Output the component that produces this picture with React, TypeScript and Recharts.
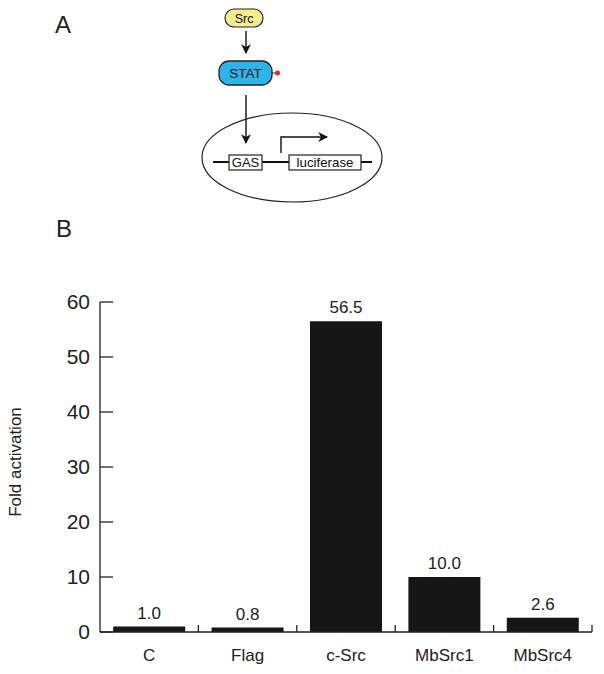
import { BarChart, Bar, XAxis, YAxis, LabelList } from "recharts";

const categories = ["C", "Flag", "c-Src", "MbSrc1", "MbSrc4"];
const foldActivation = [1.0, 0.8, 56.5, 10.0, 2.6];
const yTicks = [0, 10, 20, 30, 40, 50, 60];

const data = categories.map((name, i) => ({ name, value: foldActivation[i] }));

const W = 604;
const H = 674;
const margin = { top: 302, right: 12, bottom: 12, left: 40 };
const Y_AXIS_W = 60;
const X_AXIS_H = 30;
const plotW = W - margin.left - margin.right - Y_AXIS_W;
const band = plotW / categories.length;

const font = "'Liberation Sans', Arial, Helvetica, sans-serif";
const ink = "#222";

function YTick(props: any) {
  const { x, y, payload } = props;
  const axisX = x + 10;
  return (
    <g>
      <line x1={axisX} y1={y} x2={axisX + 13} y2={y} stroke={ink} strokeWidth={1.3} />
      <text x={x} y={y} dy={7} textAnchor="end" fontSize={21} fontFamily={font} fill={ink}>
        {payload.value}
      </text>
    </g>
  );
}

function XTick(props: any) {
  const { x, y, payload } = props;
  const edge = x + band / 2;
  return (
    <g>
      <line x1={edge} y1={y} x2={edge} y2={y - 7} stroke={ink} strokeWidth={1.3} />
      <text x={x} y={y} dy={29} textAnchor="middle" fontSize={17} fontFamily={font} fill={ink}>
        {payload.value}
      </text>
    </g>
  );
}

function Diagram() {
  return (
    <svg width={W} height={H} style={{ position: "absolute", left: 0, top: 0, pointerEvents: "none" }}>
      <defs>
        <marker id="ah" viewBox="0 0 10 10" refX="9" refY="5" markerWidth="7" markerHeight="7" orient="auto">
          <path d="M0,0 L10,5 L0,10 L3,5 z" fill="#111" />
        </marker>
      </defs>
      <text x={63} y={33} textAnchor="middle" fontSize={24} fontFamily={font} fill={ink}>A</text>
      <text x={64} y={237} textAnchor="middle" fontSize={24} fontFamily={font} fill={ink}>B</text>

      <rect x={225} y={9} width={38} height={18} rx={9} fill="#f7ec8e" stroke="#222" strokeWidth={1.2} />
      <text x={244} y={22.5} textAnchor="middle" fontSize={12.5} fontFamily={font} fill="#111">Src</text>
      <line x1={246} y1={31} x2={246} y2={53} stroke="#111" strokeWidth={1.4} markerEnd="url(#ah)" />

      <rect x={219} y={61} width={53} height={24} rx={10} fill="#2cb5e8" stroke="#222" strokeWidth={1.3} />
      <text x={245.5} y={78} textAnchor="middle" fontSize={13.5} fontFamily={font} fill="#111">STAT</text>
      <line x1={272} y1={73} x2={276} y2={73} stroke="#333" strokeWidth={1} />
      <circle cx={277.5} cy={73} r={2.5} fill="#e42a22" />
      <line x1={246} y1={95} x2={246} y2={143} stroke="#111" strokeWidth={1.4} markerEnd="url(#ah)" />

      <ellipse cx={292} cy={157.5} rx={90} ry={44.5} fill="none" stroke="#222" strokeWidth={1.2} />
      <line x1={213} y1={162} x2={372} y2={162} stroke="#111" strokeWidth={2.2} />
      <rect x={229} y={155} width={33} height={15} fill="#fff" stroke="#222" strokeWidth={1.2} />
      <text x={245.5} y={167} textAnchor="middle" fontSize={13} fontFamily={font} fill="#111">GAS</text>
      <rect x={289} y={155} width={72} height={15} fill="#fff" stroke="#222" strokeWidth={1.2} />
      <text x={325} y={167} textAnchor="middle" fontSize={13.3} fontFamily={font} fill="#111">luciferase</text>
      <polyline points="281,153 281,137 327,137" fill="none" stroke="#111" strokeWidth={1.4} markerEnd="url(#ah)" />

      <text
        x={0}
        y={0}
        transform="translate(21,462) rotate(-90)"
        textAnchor="middle"
        fontSize={17}
        fontFamily={font}
        fill={ink}
      >
        Fold activation
      </text>
    </svg>
  );
}

export default function App() {
  return (
    <div style={{ position: "absolute", left: 0, top: 0, width: W, height: H, background: "#fff" }}>
      <BarChart width={W} height={H} data={data} margin={margin} barCategoryGap="13.4%">
        <XAxis
          dataKey="name"
          height={X_AXIS_H}
          tickLine={false}
          tickSize={0}
          tickMargin={0}
          axisLine={{ stroke: ink, strokeWidth: 1.3 }}
          tick={XTick}
          interval={0}
        />
        <YAxis
          width={Y_AXIS_W}
          domain={[0, 60]}
          ticks={yTicks}
          tickLine={false}
          tickSize={0}
          tickMargin={10}
          axisLine={{ stroke: ink, strokeWidth: 1.3 }}
          tick={YTick}
        />
        <Bar dataKey="value" fill="#161616" isAnimationActive={false}>
          <LabelList
            dataKey="value"
            position="top"
            offset={8}
            formatter={(v: any) => Number(v).toFixed(1)}
            style={{ fontSize: 17, fontFamily: font, fill: ink }}
          />
        </Bar>
      </BarChart>
      <Diagram />
    </div>
  );
}
